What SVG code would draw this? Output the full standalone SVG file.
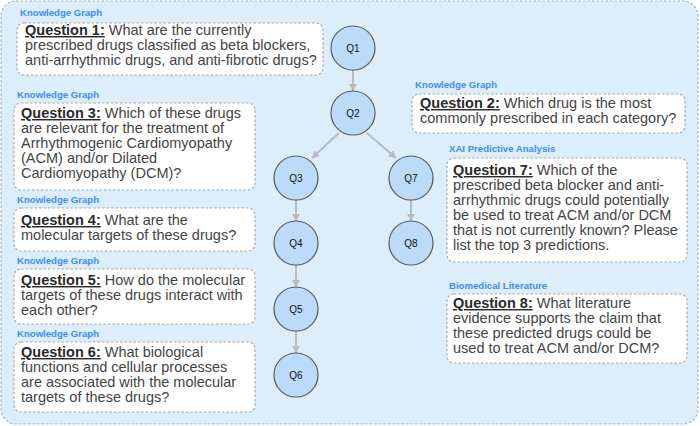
<svg xmlns="http://www.w3.org/2000/svg" width="700" height="426" viewBox="0 0 700 426">
<style>
.bg{fill:#dcedfc;stroke:#a9b3bd;stroke-width:1.2;stroke-dasharray:2.5 2}
.box{fill:#fff;stroke:#aaa;stroke-width:1.2;stroke-dasharray:2.5 2}
.lbl{font-family:"Liberation Sans",Arial,sans-serif;font-size:9.6px;font-weight:bold;fill:#3d8ef7}
.q{font-family:"Liberation Sans",Arial,sans-serif;font-size:14.5px;fill:#444}
.qh{font-weight:bold;text-decoration:underline;fill:#2a2a2a}
.node circle{fill:#bcdbf8;stroke:#5a5a5a;stroke-width:1.2}
.node text{font-family:"Liberation Sans",Arial,sans-serif;font-size:10px;fill:#111;text-anchor:middle}
.edge{stroke:#bbb;stroke-width:2;fill:none;marker-end:url(#ah)}
</style>
<defs>
<marker id="ah" viewBox="0 0 10 10" refX="9" refY="5" markerWidth="4" markerHeight="4" orient="auto" markerUnits="strokeWidth">
<path d="M0,0 L10,5 L0,10 z" fill="#bbb"/>
</marker>
</defs>
<rect class="bg" x="1" y="1" width="697" height="423" rx="15"/>

<g id="connectors">
<line class="edge" x1="353" y1="70" x2="353" y2="91"/>
<line class="edge" x1="339" y1="133" x2="312" y2="158"/>
<line class="edge" x1="367" y1="133" x2="396" y2="158"/>
<line class="edge" x1="296" y1="200" x2="296" y2="221"/>
<line class="edge" x1="296" y1="265" x2="296" y2="287"/>
<line class="edge" x1="296" y1="331" x2="296" y2="353"/>
<line class="edge" x1="411" y1="200" x2="411" y2="221"/>
</g>

<g id="Q1" class="node"><circle cx="353" cy="48" r="22"/><text x="353" y="51.5">Q1</text></g>
<g id="Q2" class="node"><circle cx="353" cy="113" r="22"/><text x="353" y="116.5">Q2</text></g>
<g id="Q3" class="node"><circle cx="296" cy="178" r="22"/><text x="296" y="181.5">Q3</text></g>
<g id="Q7" class="node"><circle cx="411" cy="178" r="22"/><text x="411" y="181.5">Q7</text></g>
<g id="Q4" class="node"><circle cx="296" cy="243" r="22"/><text x="296" y="246.5">Q4</text></g>
<g id="Q8" class="node"><circle cx="411" cy="243" r="22"/><text x="411" y="246.5">Q8</text></g>
<g id="Q5" class="node"><circle cx="296" cy="309" r="22"/><text x="296" y="312.5">Q5</text></g>
<g id="Q6" class="node"><circle cx="296" cy="375" r="22"/><text x="296" y="378.5">Q6</text></g>

<g id="question1">
<text class="lbl" x="20" y="16">Knowledge Graph</text>
<rect class="box" x="17" y="23" width="306" height="52" rx="7"/>
<text class="q" x="25" y="35"><tspan class="qh">Question 1:</tspan> What are the currently</text>
<text class="q" x="25" y="50">prescribed drugs classified as beta blockers,</text>
<text class="q" x="25" y="65">anti-arrhythmic drugs, and anti-fibrotic drugs?</text>
</g>

<g id="question2">
<text class="lbl" x="415" y="88">Knowledge Graph</text>
<rect class="box" x="412" y="94" width="273" height="39" rx="7"/>
<text class="q" x="420" y="108"><tspan class="qh">Question 2:</tspan> Which drug is the most</text>
<text class="q" x="420" y="123">commonly prescribed in each category?</text>
</g>

<g id="question3">
<text class="lbl" x="17" y="98">Knowledge Graph</text>
<rect class="box" x="14" y="103" width="241" height="87" rx="7"/>
<text class="q" x="21" y="118"><tspan class="qh">Question 3:</tspan> Which of these drugs</text>
<text class="q" x="21" y="133">are relevant for the treatment of</text>
<text class="q" x="21" y="148">Arrhythmogenic Cardiomyopathy</text>
<text class="q" x="21" y="163">(ACM) and/or Dilated</text>
<text class="q" x="21" y="178">Cardiomyopathy (DCM)?</text>
</g>

<g id="question4">
<text class="lbl" x="17" y="203">Knowledge Graph</text>
<rect class="box" x="14" y="208" width="241" height="43" rx="7"/>
<text class="q" x="21" y="225"><tspan class="qh">Question 4:</tspan> What are the</text>
<text class="q" x="21" y="240">molecular targets of these drugs?</text>
</g>

<g id="question5">
<text class="lbl" x="17" y="264">Knowledge Graph</text>
<rect class="box" x="14" y="269" width="241" height="55" rx="7"/>
<text class="q" x="21" y="285"><tspan class="qh">Question 5:</tspan> How do the molecular</text>
<text class="q" x="21" y="300">targets of these drugs interact with</text>
<text class="q" x="21" y="315">each other?</text>
</g>

<g id="question6">
<text class="lbl" x="17" y="337">Knowledge Graph</text>
<rect class="box" x="14" y="342" width="241" height="70" rx="7"/>
<text class="q" x="21" y="357"><tspan class="qh">Question 6:</tspan> What biological</text>
<text class="q" x="21" y="372">functions and cellular processes</text>
<text class="q" x="21" y="387">are associated with the molecular</text>
<text class="q" x="21" y="402">targets of these drugs?</text>
</g>

<g id="question7">
<text class="lbl" x="449" y="152">XAI Predictive Analysis</text>
<rect class="box" x="447" y="158" width="240" height="104" rx="7"/>
<text class="q" x="453" y="175"><tspan class="qh">Question 7:</tspan> Which of the</text>
<text class="q" x="453" y="190">prescribed beta blocker and anti-</text>
<text class="q" x="453" y="205">arrhythmic drugs could potentially</text>
<text class="q" x="453" y="220">be used to treat ACM and/or DCM</text>
<text class="q" x="453" y="235">that is not currently known? Please</text>
<text class="q" x="453" y="250">list the top 3 predictions.</text>
</g>

<g id="question8">
<text class="lbl" x="449" y="289">Biomedical Literature</text>
<rect class="box" x="447" y="294" width="240" height="69" rx="7"/>
<text class="q" x="453" y="308"><tspan class="qh">Question 8:</tspan> What literature</text>
<text class="q" x="453" y="323">evidence supports the claim that</text>
<text class="q" x="453" y="338">these predicted drugs could be</text>
<text class="q" x="453" y="353">used to treat ACM and/or DCM?</text>
</g>
</svg>
